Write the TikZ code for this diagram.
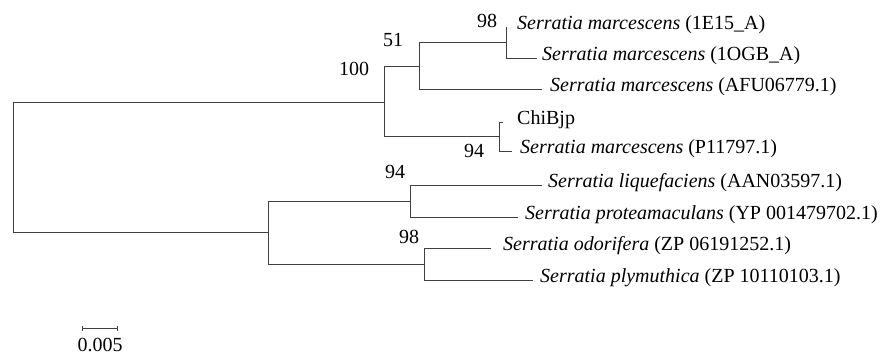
\documentclass[tikz,border=0pt]{standalone}
\usepackage{fontspec}
\setmainfont{Liberation Serif}
\begin{document}
\begin{tikzpicture}[x=1pt,y=-1pt,
  branch/.style={draw=black!75,line width=0.95pt},
  leaf/.style={anchor=mid west,inner sep=0pt,font=\fontsize{20}{22}\selectfont},
  boot/.style={inner sep=0pt,font=\fontsize{20}{22}\selectfont}]
\useasboundingbox (0,0) rectangle (889,356);
% tree nodes
\coordinate (root) at (13,167.5);
\coordinate (n100) at (384,102);
\coordinate (n51) at (419,66.5);
\coordinate (n98) at (506,42.5);
\coordinate (n94a) at (499,136.5);
\coordinate (nlow) at (268,232.5);
\coordinate (n94b) at (410,201);
\coordinate (n98b) at (424,264);
% leaf ends
\coordinate (l1) at (506,27);
\coordinate (l2) at (537,58);
\coordinate (l3) at (542,89);
\coordinate (l4) at (503,122);
\coordinate (l5) at (512,151);
\coordinate (l6) at (542,185);
\coordinate (l7) at (518,217);
\coordinate (l8) at (491,248);
\coordinate (l9) at (533,280);
% branches
\draw[branch] (l1) -| (n98);
\draw[branch] (l2) -| (n98);
\draw[branch] (n98) -| (n51);
\draw[branch] (l3) -| (n51);
\draw[branch] (n51) -| (n100);
\draw[branch] (l4) -| (n94a);
\draw[branch] (l5) -| (n94a);
\draw[branch] (n94a) -| (n100);
\draw[branch] (n100) -| (root);
\draw[branch] (l6) -| (n94b);
\draw[branch] (l7) -| (n94b);
\draw[branch] (n94b) -| (nlow);
\draw[branch] (l8) -| (n98b);
\draw[branch] (l9) -| (n98b);
\draw[branch] (n98b) -| (nlow);
\draw[branch] (nlow) -| (root);
% leaf labels
\node[leaf] (t1) at (517,27) {\textit{Serratia marcescens} (1E15\_A)};
\node[leaf] (t2) at (542,58) {\textit{Serratia marcescens} (1OGB\_A)};
\node[leaf] (t3) at (550,89) {\textit{Serratia marcescens} (AFU06779.1)};
\node[leaf] (t4) at (517,122) {ChiBjp};
\node[leaf] (t5) at (520,151) {\textit{Serratia marcescens} (P11797.1)};
\node[leaf] (t6) at (548,185) {\textit{Serratia liquefaciens} (AAN03597.1)};
\node[leaf] (t7) at (525,217) {\textit{Serratia proteamaculans} (YP 001479702.1)};
\node[leaf] (t8) at (503,248) {\textit{Serratia odorifera} (ZP 06191252.1)};
\node[leaf] (t9) at (540,280) {\textit{Serratia plymuthica} (ZP 10110103.1)};
% bootstrap values
\node[boot] (b100) at (354,69) {100};
\node[boot] (b51) at (393,40) {51};
\node[boot] (b98) at (487,21) {98};
\node[boot] (b94a) at (474,151) {94};
\node[boot] (b94b) at (395,172) {94};
\node[boot] (b98b) at (409,237) {98};
% scale bar
\coordinate (s1) at (82,328);
\coordinate (s2) at (117,328);
\draw[branch,line width=1pt] (s1) -- (s2);
\draw[branch,line width=1pt] ([yshift=-2.5pt]s1) -- ([yshift=2.5pt]s1);
\draw[branch,line width=1pt] ([yshift=-2.5pt]s2) -- ([yshift=2.5pt]s2);
\node[boot] (sl) at (100,345) {0.005};
\end{tikzpicture}
\end{document}
